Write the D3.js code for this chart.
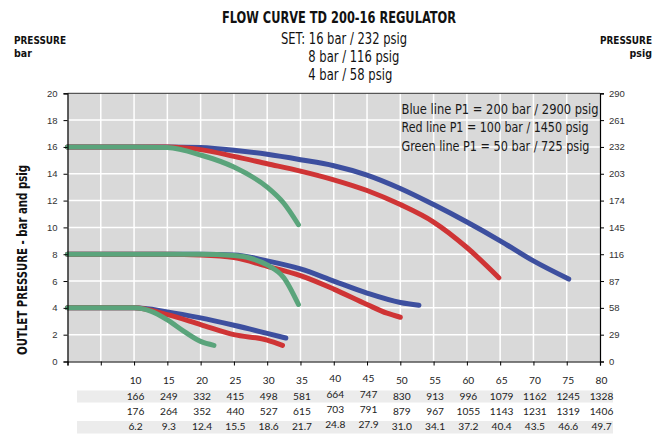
<!DOCTYPE html>
<html><head><meta charset="utf-8">
<script src="https://cdn.jsdelivr.net/npm/d3@7/dist/d3.min.js"></script>
<style>
html,body{margin:0;padding:0;background:#fff;}
svg{display:block;}
.cond{font-family:'Liberation Sans Narrow','DejaVu Sans Condensed',sans-serif;}
</style></head>
<body><svg id="c" width="666" height="437"></svg>
<script>
// ---- data ----
const title = "FLOW CURVE TD 200-16 REGULATOR";
const subtitles = ["SET: 16 bar / 232 psig", "8 bar / 116 psig", "4 bar / 58 psig"];
const legendLines = ["Blue line P1 = 200 bar / 2900 psig", "Red line P1 = 100 bar / 1450 psig", "Green line P1 = 50 bar / 725 psig"];
const barTicks = [0,2,4,6,8,10,12,14,16,18,20];
const psigTicks = [0,29,58,87,116,145,174,203,232,261,290];
const flowTicks = [0,5,10,15,20,25,30,35,40,45,50,55,60,65,70,75,80];
const flowLabels = [10,15,20,25,30,35,40,45,50,55,60,65,70,75,80];
const row2 = [166,249,332,415,498,581,664,747,830,913,996,1079,1162,1245,1328];
const row3 = [176,264,352,440,527,615,703,791,879,967,1055,1143,1231,1319,1406];
const row4 = ["6.2","9.3","12.4","15.5","18.6","21.7","24.8","27.9","31.0","34.1","37.2","40.4","43.5","46.6","49.7"];
const raisedCols = [40,45];

// series: [flow, bar]
const blue16 = [[0,16],[5,16],[10,16],[15,16],[20,15.95],[25,15.75],[30,15.45],[35,15.05],[40,14.6],[45,13.9],[50,12.9],[55,11.7],[60,10.4],[65,9.0],[70,7.5],[75.3,6.15]];
const red16 = [[0,16],[5,16],[10,16],[15,16],[20,15.8],[25,15.3],[30,14.75],[35,14.2],[40,13.55],[45,12.75],[50,11.7],[55,10.4],[60,8.5],[64.8,6.25]];
const green16 = [[0,16],[5,16],[10,16],[15,15.95],[20,15.4],[25,14.5],[30,13.0],[32.5,11.8],[34.7,10.2]];
const blue8 = [[0,8],[5,8],[10,8],[15,8],[20,8],[25,7.95],[30,7.5],[35,6.9],[40,6.0],[45,5.1],[50,4.4],[52.8,4.2]];
const red8 = [[0,8],[5,8],[10,8],[15,8],[20,7.95],[25,7.75],[30,7.1],[35,6.4],[40,5.4],[45,4.25],[48,3.6],[50,3.3]];
const green8 = [[0,8],[5,8],[10,8],[15,8],[20,8],[25,7.9],[27.5,7.7],[30,7.2],[32.5,6.25],[34.7,4.25]];
const blue4 = [[0,4],[5,4],[10,4],[15,3.7],[20,3.25],[25,2.7],[30,2.1],[32.8,1.75]];
const red4 = [[0,4],[5,4],[10,4],[15,3.5],[20,2.75],[25,2.0],[30,1.6],[32.3,1.2]];
const green4 = [[0,4],[5,4],[10,4],[12.5,3.75],[15,3.1],[17.5,2.25],[20,1.5],[22,1.2]];

const BLUE="#3d4f9f", RED="#cf3435", GREEN="#5aa47b";
const series = [
  {d:blue16,c:BLUE},{d:blue8,c:BLUE},{d:blue4,c:BLUE},
  {d:red16,c:RED},{d:red8,c:RED},{d:red4,c:RED},
  {d:green16,c:GREEN},{d:green8,c:GREEN},{d:green4,c:GREEN}
];

// ---- layout ----
const svg = d3.select("#c");
const L=67.5, R=600, T=93.3, B=361.5;
const x = d3.scaleLinear().domain([0,80]).range([L,R]);
const y = d3.scaleLinear().domain([0,20]).range([B,T]);
const yR = d3.scaleLinear().domain([0,290]).range([B,T]);

function fit(sel, len){ sel.attr("textLength",len).attr("lengthAdjust","spacingAndGlyphs"); return sel; }

// plot background
svg.append("rect").attr("x",L).attr("y",T).attr("width",R-L).attr("height",B-T).attr("fill","#d9d9d9");
// grid
const g = svg.append("g");
g.selectAll("line.v").data(flowTicks.slice(1,-1)).join("line")
  .attr("x1",d=>x(d)).attr("x2",d=>x(d)).attr("y1",T).attr("y2",B)
  .attr("stroke","#fff").attr("stroke-width",1.5);
g.selectAll("line.h").data(barTicks.slice(1,-1)).join("line")
  .attr("y1",d=>y(d)).attr("y2",d=>y(d)).attr("x1",L).attr("x2",R)
  .attr("stroke","#fff").attr("stroke-width",1.5);
svg.append("line").attr("x1",L).attr("x2",R).attr("y1",T).attr("y2",T).attr("stroke","#333").attr("stroke-width",1);

// legend text in plot (horizontally condensed group)
const legLen = [197,187,188];
const sx = 0.87;
svg.append("g").attr("class","cond").attr("transform",`translate(401.5,0) scale(${sx},1)`)
  .selectAll("text").data(legendLines).join("text")
  .attr("x",0).attr("y",(d,i)=>114+i*18.5).attr("font-size",14.5).attr("fill","#1a1a1a")
  .attr("textLength",(d,i)=>legLen[i]/sx).attr("lengthAdjust","spacingAndGlyphs").text(d=>d);

// lines
const line = d3.line().x(d=>x(d[0])).y(d=>y(d[1])).curve(d3.curveMonotoneX);
svg.append("g").selectAll("path").data(series).join("path")
  .attr("d",s=>line(s.d)).attr("fill","none").attr("stroke",s=>s.c)
  .attr("stroke-width",5).attr("stroke-linecap","round").attr("stroke-linejoin","round");

// axes
const axFont = "'Liberation Sans',Arial,sans-serif";
const axL = svg.append("g").attr("transform",`translate(${L},0)`)
  .call(d3.axisLeft(y).tickValues(barTicks).tickSize(4).tickPadding(6).tickFormat(d3.format("d")));
const axR = svg.append("g").attr("transform",`translate(${R},0)`)
  .call(d3.axisRight(yR).tickValues(psigTicks).tickSize(4).tickPadding(5).tickFormat(d3.format("d")));
const axB = svg.append("g").attr("transform",`translate(0,${B})`)
  .call(d3.axisBottom(x).tickValues(flowTicks).tickSize(4).tickFormat(""));
[axL,axR,axB].forEach(a=>{
  a.selectAll("text").attr("font-family",axFont).attr("font-size",9.5).attr("fill","#333");
  a.select(".domain").attr("stroke","#000").attr("stroke-width",1.2);
  a.selectAll(".tick line").attr("stroke","#000");
});

// table
const tf = "Lato,'Open Sans',sans-serif";
svg.append("rect").attr("x",77).attr("y",390.5).attr("width",536).attr("height",12).attr("fill","#ececec");
svg.append("rect").attr("x",77).attr("y",421).attr("width",536).attr("height",12.5).attr("fill","#ececec");
const rows = [flowLabels,row2,row3,row4];
const rowY = [383.8,400.4,415.4,430.4];
rows.forEach((r,ri)=>{
  svg.append("g").selectAll("text").data(r).join("text")
    .attr("x",(d,i)=>x(flowLabels[i])+1.5)
    .attr("y",(d,i)=>rowY[ri]-(raisedCols.includes(flowLabels[i])?2:0))
    .attr("text-anchor","middle").attr("font-family",tf).attr("font-size",10.2).attr("fill","#222")
    .text(d=>d);
});

// titles
const tg = svg.append("g").attr("class","cond").attr("fill","#111");
fit(tg.append("text").attr("x",222).attr("y",23.3).attr("font-size",15.5).attr("font-weight","bold").text(title),234);
const subX = [281,308.3,308.3], subY = [43.5,61.8,80], subLen = [126,91,84];
tg.selectAll("text.sub").data(subtitles).join("text")
  .attr("x",(d,i)=>subX[i]).attr("y",(d,i)=>subY[i]).attr("font-size",16)
  .attr("textLength",(d,i)=>subLen[i]).attr("lengthAdjust","spacingAndGlyphs").text(d=>d);
fit(tg.append("text").attr("x",14).attr("y",44).attr("font-size",11).attr("font-weight","bold").text("PRESSURE"),52);
tg.append("text").attr("x",14).attr("y",57).attr("font-size",10.5).attr("font-weight","bold").text("bar");
fit(tg.append("text").attr("x",600).attr("y",44).attr("font-size",11).attr("font-weight","bold").text("PRESSURE"),52);
tg.append("text").attr("x",652).attr("y",57).attr("text-anchor","end").attr("font-size",10.5).attr("font-weight","bold").text("psig");
fit(tg.append("text").attr("transform","translate(26.5,355) rotate(-90)")
  .attr("font-size",13.5).attr("font-weight","bold").text("OUTLET PRESSURE - bar and psig"),190);
</script></body></html>
